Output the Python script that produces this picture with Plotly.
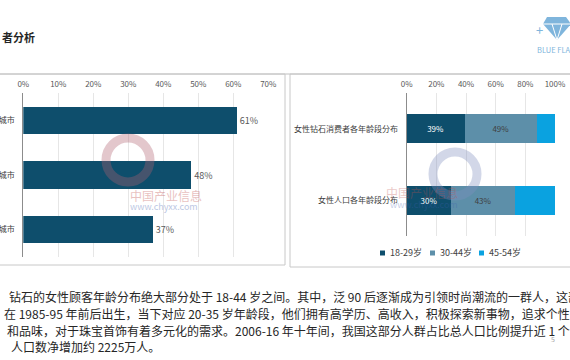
import plotly.graph_objects as go

W, H = 570, 360
def px(x): return x / W
def py(y): return 1 - y / H

# Left chart data
city_cats = ["一线城市", "二线城市", "三线城市"]
city_vals = [61, 48, 37]
left_ticks = [0, 10, 20, 30, 40, 50, 60, 70]

# Right chart data
dist_cats = ["女性钻石消费者各年龄段分布", "女性人口各年龄段分布"]
age_groups = ["18-29岁", "30-44岁", "45-54岁"]
age_vals = {
    "18-29岁": [39, 30],
    "30-44岁": [49, 43],
    "45-54岁": [12, 27],
}
age_labels = {
    "18-29岁": ["39%", "30%"],
    "30-44岁": ["49%", "43%"],
    "45-54岁": ["", ""],
}
right_ticks = [0, 20, 40, 60, 80, 100]

DARK = "#0e4e6c"
MID = "#5d8fa9"
LIGHT = "#0aa2e0"
FONT = "Noto Sans CJK SC"

fig = go.Figure()

fig.add_trace(go.Bar(
    y=city_cats, x=city_vals, orientation="h",
    marker=dict(color=DARK, line=dict(width=0)),
    text=[f"{v}%" for v in city_vals], textposition="outside",
    textfont=dict(size=9, color="#595959", family=FONT),
    cliponaxis=False, width=0.5, showlegend=False,
    xaxis="x", yaxis="y",
))

text_cols = {"18-29岁": "#ffffff", "30-44岁": "#404040", "45-54岁": "#404040"}
cols = {"18-29岁": DARK, "30-44岁": MID, "45-54岁": LIGHT}
for g in age_groups:
    fig.add_trace(go.Bar(
        y=dist_cats, x=age_vals[g], orientation="h", name=g,
        marker=dict(color=cols[g], line=dict(width=0)),
        text=age_labels[g], textposition="inside", insidetextanchor="middle",
        textfont=dict(size=8, color=text_cols[g], family=FONT),
        width=0.4, xaxis="x2", yaxis="y2", showlegend=False,
    ))

grid = "#e6e6e6"
tickfont = dict(size=8, color="#595959", family=FONT)
fig.update_layout(
    width=W, height=H, margin=dict(l=0, r=0, t=0, b=0, autoexpand=False),
    paper_bgcolor="white", plot_bgcolor="rgba(0,0,0,0)",
    barmode="stack", font=dict(family=FONT), showlegend=False,
    xaxis=dict(domain=[px(23.3), px(268.3)], range=[0, 70], side="top",
               tickvals=left_ticks, ticktext=[f"{t}%" for t in left_ticks],
               tickfont=tickfont, showgrid=True, gridcolor=grid, gridwidth=1,
               zeroline=False, showline=False, anchor="y", automargin=False,
               ticklabelstandoff=3),
    yaxis=dict(domain=[py(257), py(93)], categoryorder="array",
               categoryarray=city_cats[::-1], range=[-0.5, 2.5],
               tickfont=dict(size=8, color="#404040", family=FONT),
               showline=True, linecolor="#8c8c8c", linewidth=1,
               ticks="", showgrid=False, anchor="x", ticklabelstandoff=6,
               automargin=False),
    xaxis2=dict(domain=[px(406.7), px(555)], range=[0, 100], side="top",
                tickvals=right_ticks, ticktext=[f"{t}%" for t in right_ticks],
                tickfont=tickfont, showgrid=True, gridcolor=grid,
                zeroline=False, showline=False, anchor="y2", automargin=False,
                ticklabelstandoff=3),
    yaxis2=dict(domain=[py(236), py(93)], categoryorder="array",
                categoryarray=dist_cats[::-1], range=[-0.5, 1.5],
                tickfont=dict(size=8, color="#404040", family=FONT),
                showline=True, linecolor="#8c8c8c", linewidth=1,
                ticks="", showgrid=False, anchor="x2", ticklabelstandoff=6,
                automargin=False),
    bargap=0.5,
)

shapes = [
    dict(type="line", xref="paper", yref="paper", x0=0, x1=1, y0=py(74), y1=py(74),
         line=dict(color="#bfbfbf", width=1)),
    dict(type="rect", xref="paper", yref="paper", x0=px(-2), x1=px(285), y0=py(265), y1=py(74),
         line=dict(color="#c8c8c8", width=1)),
    dict(type="rect", xref="paper", yref="paper", x0=px(290), x1=px(572), y0=py(267), y1=py(74),
         line=dict(color="#c8c8c8", width=1)),
]

# manual legend for right chart
legend_x = [380, 430, 479]
legend_y = 253
ann = []
for g, lx in zip(age_groups, legend_x):
    shapes.append(dict(type="rect", xref="paper", yref="paper",
                       x0=px(lx), x1=px(lx + 5), y0=py(legend_y + 2.5), y1=py(legend_y - 2.5),
                       fillcolor=cols[g], line=dict(width=0)))
    ann.append(dict(text=g, x=px(lx + 8), y=py(legend_y), xref="paper", yref="paper",
                    xanchor="left", yanchor="middle", showarrow=False,
                    font=dict(size=9, color="#404040", family=FONT)))

# watermark rings
def ring(cx, cy, r, color):
    return dict(type="circle", xref="paper", yref="paper",
                x0=px(cx - r), x1=px(cx + r), y0=py(cy + r), y1=py(cy - r),
                line=dict(color=color, width=9), opacity=0.35, layer="above")
shapes += [ring(128, 160, 22, "#b06070"), ring(455, 174, 22, "#8090c0")]

# logo diamond
shapes += [
    dict(type="path", xref="paper", yref="paper",
         path=f"M {px(547)} {py(17)} L {px(566)} {py(17)} L {px(571)} {py(24)} L {px(557)} {py(40)} L {px(543)} {py(24)} Z",
         fillcolor="#7fb5dc", line=dict(width=0)),
    dict(type="path", xref="paper", yref="paper",
         path=f"M {px(543)} {py(24)} L {px(571)} {py(24)} M {px(552)} {py(24)} L {px(557)} {py(40)} L {px(562)} {py(24)}",
         line=dict(color="white", width=1)),
]
fig.update_layout(shapes=shapes)

body = [
    "钻石的女性顾客年龄分布绝大部分处于 18-44 岁之间。其中，泛 90 后逐渐成为引领时尚潮流的一群人，这部",
    "在 1985-95 年前后出生，当下对应 20-35 岁年龄段，他们拥有高学历、高收入，积极探索新事物，追求个性",
    "和品味，对于珠宝首饰有着多元化的需求。2006-16 年十年间，我国这部分人群占比总人口比例提升近 1 个",
    "人口数净增加约 2225万人。",
]
body_x = [7, 2, 5, 9]
body_y = [296, 313, 330, 346]
for t, x, y in zip(body, body_x, body_y):
    ann.append(dict(text=t, x=px(x), y=py(y), xref="paper", yref="paper",
                    xanchor="left", yanchor="middle", showarrow=False,
                    font=dict(size=12, color="#262626", family=FONT)))
ann += [
    dict(text="<b>者分析</b>", x=0, y=py(37), xref="paper", yref="paper",
         xanchor="left", yanchor="middle", showarrow=False,
         font=dict(size=11, color="#262626", family=FONT)),
    dict(text="5", x=px(557), y=py(346), xref="paper", yref="paper",
         showarrow=False, font=dict(size=7, color="#a6a6a6", family=FONT)),
    dict(text="BLUE FLAME", x=px(535), y=py(50), xref="paper", yref="paper",
         xanchor="left", yanchor="middle", showarrow=False,
         font=dict(size=7.5, color="#7fb5dc", family=FONT)),
    dict(text="+", x=px(539), y=py(29), xref="paper", yref="paper",
         xanchor="center", yanchor="middle",
         showarrow=False, font=dict(size=13, color="#7fb5dc", family=FONT)),
    dict(text="中国产业信息", x=px(128), y=py(196), xref="paper", yref="paper",
         showarrow=False, opacity=0.35,
         font=dict(size=12, color="#c0504d", family=FONT)),
    dict(text="www.chyxx.com", x=px(128), y=py(207), xref="paper", yref="paper",
         showarrow=False, opacity=0.35,
         font=dict(size=9, color="#4060b0", family=FONT)),
    dict(text="中国产业信息", x=px(460), y=py(192), xref="paper", yref="paper",
         showarrow=False, opacity=0.3,
         font=dict(size=12, color="#c0504d", family=FONT)),
    dict(text="www.chyxx.com", x=px(460), y=py(204), xref="paper", yref="paper",
         showarrow=False, opacity=0.3,
         font=dict(size=9, color="#4060b0", family=FONT)),
]
fig.update_layout(annotations=ann)

fig.write_html("out.html")
